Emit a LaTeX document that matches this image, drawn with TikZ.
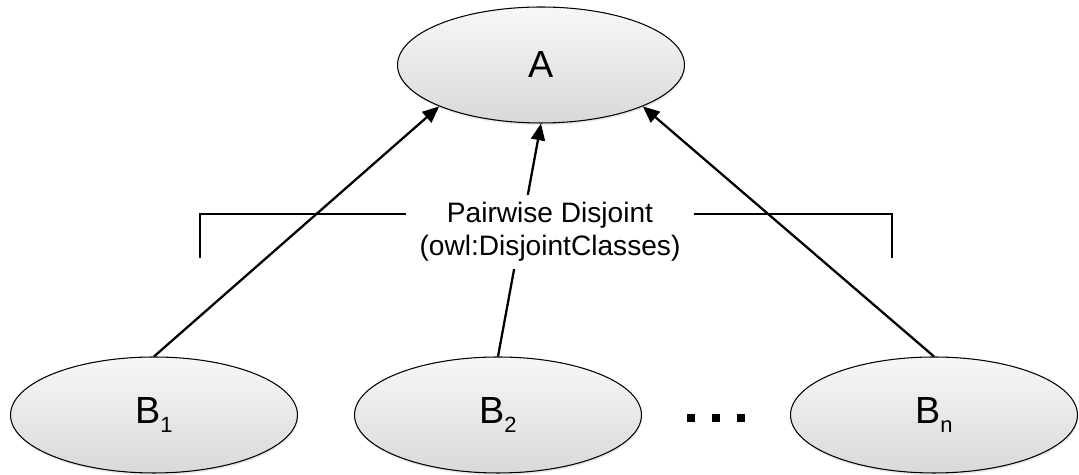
\documentclass[tikz,border=0pt]{standalone}
\usepackage{fontspec}
\setmainfont{Liberation Sans}
\usetikzlibrary{arrows.meta, positioning, shapes.geometric, shadows}

% class name with a lowered index
\newcommand{\clsidx}[2]{#1\raisebox{-0.25em}{\fontsize{12.5}{14}\selectfont #2}}

\begin{document}
\begin{tikzpicture}[x=0.02cm, y=-0.02cm,
        class/.style={ellipse, draw, line width=0.6pt, top color=gray!6, bottom color=gray!30,
            minimum width=5.74cm, minimum height=2.32cm, inner sep=0pt,
            drop shadow={opacity=0.18, shadow xshift=0.4pt, shadow yshift=-1.2pt},
            font=\fontsize{21.5}{26}\selectfont},
        isa/.style={line width=1.3pt, -{Triangle[length=9.5pt,width=8pt]}},
        bracket/.style={line width=1.25pt}
    ]
        \useasboundingbox (0,0) rectangle (1079,475);

        % Superclass and subclasses
        \node[class] (A) at (541,65) {A};
        \node[class] (B1) at (154,415) {\clsidx{B}{1}};
        \node[class] (B2) at (498,415) {\clsidx{B}{2}};
        \node[class] (Bn) at (934,415) {\clsidx{B}{n}};

        % Subclass links
        \draw[isa] (B1.north) -- (A.south west);
        \draw[isa] (B2.north) -- (A.south);
        \draw[isa] (Bn.north) -- (A.south east);

        % Disjointness bracket
        \node[fill=white, align=center, inner xsep=0.26cm, inner ysep=0.14cm,
            font=\fontsize{16}{19}\selectfont] (disj) at (550,232)
            {Pairwise Disjoint\\(owl:DisjointClasses)};
        \coordinate (brkL) at (200,258);
        \coordinate (brkR) at (892,258);
        \draw[bracket] (brkL) |- ([yshift=0.36cm]disj.west);
        \draw[bracket] (brkR) |- ([yshift=0.36cm]disj.east);

        % Ellipsis between B2 and Bn
        \coordinate (dots) at (716,418);
        \foreach \dx in {-25,0,25}
            \fill ([xshift=\dx*0.02cm]dots) +(-4,-4) rectangle +(4,4);
    \end{tikzpicture}
\end{document}
